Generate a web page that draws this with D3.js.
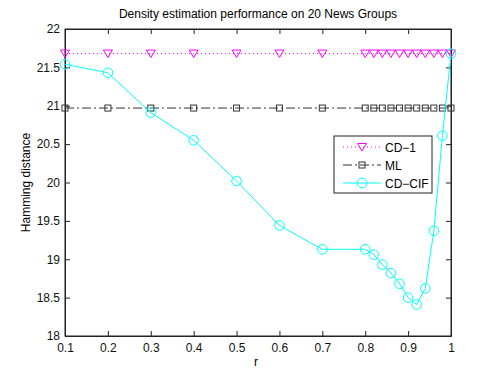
<!DOCTYPE html>
<html>
<head>
<meta charset="utf-8">
<script src="https://cdn.jsdelivr.net/npm/d3@7"></script>
<style>
body { margin: 0; background: #fff; }
text { font-family: "Liberation Sans", Arial, sans-serif; }
</style>
</head>
<body>
<script>
var rValues = [0.1, 0.2, 0.3, 0.4, 0.5, 0.6, 0.7, 0.8, 0.82, 0.84, 0.86, 0.88, 0.9, 0.92, 0.94, 0.96, 0.98, 1.0];
var cd1 = [21.68, 21.68, 21.68, 21.68, 21.68, 21.68, 21.68, 21.68, 21.68, 21.68, 21.68, 21.68, 21.68, 21.68, 21.68, 21.68, 21.68, 21.68];
var ml = [20.97, 20.97, 20.97, 20.97, 20.97, 20.97, 20.97, 20.97, 20.97, 20.97, 20.97, 20.97, 20.97, 20.97, 20.97, 20.97, 20.97, 20.97];
var cdcif = [21.54, 21.43, 20.91, 20.55, 20.02, 19.44, 19.13, 19.13, 19.06, 18.93, 18.82, 18.68, 18.50, 18.41, 18.62, 19.37, 20.61, 21.68];
var xTicks = [0.1, 0.2, 0.3, 0.4, 0.5, 0.6, 0.7, 0.8, 0.9, 1];
var yTicks = [18, 18.5, 19, 19.5, 20, 20.5, 21, 21.5, 22];
var seriesNames = ["CD\u22121", "ML", "CD\u2212CIF"];

var width = 498, height = 379;
var margins = {top: 29, bottom: 43, left: 65, right: 47};
var graph = {
    width: width - margins.left - margins.right,
    height: height - margins.top - margins.bottom
};

var svg = d3.select("body").append("svg")
    .attr("width", width)
    .attr("height", height);

var x = d3.scaleLinear().domain([0.1, 1]).range([margins.left, margins.left + graph.width]);
var y = d3.scaleLinear().domain([18, 22]).range([margins.top + graph.height, margins.top]);

// axes with inward ticks, on all four sides
var fmt = function(d) { return String(d); };
svg.append("g")
    .attr("transform", "translate(0," + (margins.top + graph.height) + ")")
    .call(d3.axisBottom(x).tickValues(xTicks).tickFormat(fmt).tickSizeInner(-5).tickSizeOuter(0).tickPadding(7));
svg.append("g")
    .attr("transform", "translate(0," + margins.top + ")")
    .call(d3.axisTop(x).tickValues(xTicks).tickFormat("").tickSizeInner(-5).tickSizeOuter(0));
svg.append("g")
    .attr("transform", "translate(" + margins.left + ",0)")
    .call(d3.axisLeft(y).tickValues(yTicks).tickFormat(fmt).tickSizeInner(-5).tickSizeOuter(0).tickPadding(5));
svg.append("g")
    .attr("transform", "translate(" + (margins.left + graph.width) + ",0)")
    .call(d3.axisRight(y).tickValues(yTicks).tickFormat("").tickSizeInner(-5).tickSizeOuter(0));

svg.selectAll(".domain").attr("stroke", "#222");
svg.selectAll(".tick line").attr("stroke", "#222");
svg.selectAll(".tick text").attr("font-size", 12).attr("fill", "#111")
    .style("font-family", "Liberation Sans, Arial, sans-serif");

svg.append("rect")
    .attr("x", margins.left).attr("y", margins.top)
    .attr("width", graph.width).attr("height", graph.height)
    .attr("fill", "none").attr("stroke", "#222");

var line = d3.line().x(function(d) { return x(d[0]); }).y(function(d) { return y(d[1]); });
function pts(vals) { return rValues.map(function(r, i) { return [r, vals[i]]; }); }

var triPath = "M-4.5,-3.5L4.5,-3.5L0,4Z";
function drawMarker(g, type, color) {
    if (type === "tri") {
        g.append("path").attr("d", triPath).attr("fill", "none").attr("stroke", color);
    } else if (type === "sq") {
        g.append("rect").attr("x", -3).attr("y", -3).attr("width", 6).attr("height", 6)
            .attr("fill", "none").attr("stroke", color);
    } else {
        g.append("circle").attr("r", 4.8).attr("fill", "none").attr("stroke", color);
    }
}

var series = [
    {vals: cd1, color: "#ff00ff", dash: "1,3", marker: "tri"},
    {vals: ml, color: "#333", dash: "9,3,2,3", marker: "sq"},
    {vals: cdcif, color: "#00ffff", dash: null, marker: "circ"}
];

series.forEach(function(s) {
    svg.append("path")
        .datum(pts(s.vals))
        .attr("d", line)
        .attr("fill", "none")
        .attr("stroke", s.color)
        .attr("stroke-dasharray", s.dash);
    svg.selectAll(null)
        .data(pts(s.vals))
        .enter()
        .append("g")
        .attr("transform", function(d) { return "translate(" + x(d[0]) + "," + y(d[1]) + ")"; })
        .each(function() { drawMarker(d3.select(this), s.marker, s.color); });
});

// title and labels
svg.append("text")
    .attr("x", margins.left + graph.width / 2).attr("y", 18)
    .attr("text-anchor", "middle").attr("font-size", 12)
    .text("Density estimation performance on 20 News Groups");
svg.append("text")
    .attr("x", margins.left + graph.width / 2 - 2).attr("y", 366)
    .attr("text-anchor", "middle").attr("font-size", 12)
    .text("r");
svg.append("text")
    .attr("transform", "translate(30," + (margins.top + graph.height / 2) + ") rotate(-90)")
    .attr("text-anchor", "middle").attr("font-size", 12)
    .text("Hamming distance");

// legend
var legend = svg.append("g").attr("transform", "translate(334,136)");
legend.append("rect").attr("width", 98).attr("height", 57)
    .attr("fill", "#fff").attr("stroke", "#222");
series.forEach(function(s, i) {
    var row = legend.append("g").attr("transform", "translate(0," + (11 + i * 18) + ")");
    row.append("line").attr("x1", 9).attr("x2", 47).attr("y1", 0).attr("y2", 0)
        .attr("stroke", s.color).attr("stroke-dasharray", s.dash);
    drawMarker(row.append("g").attr("transform", "translate(28,0)"), s.marker, s.color);
    row.append("text").attr("x", 51).attr("y", 4.5).attr("font-size", 12).text(seriesNames[i]);
});
</script>
</body>
</html>
